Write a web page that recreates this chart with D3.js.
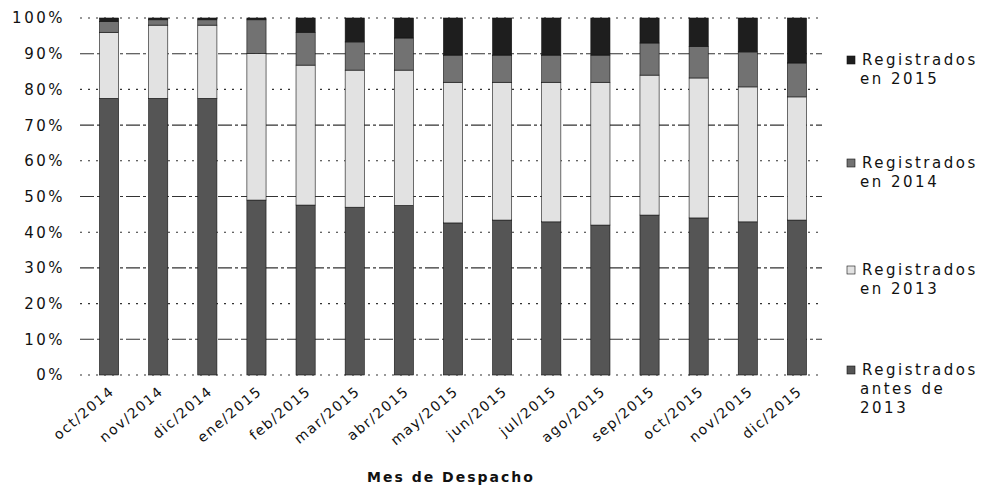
<!DOCTYPE html>
<html><head><meta charset="utf-8">
<script src="https://cdn.jsdelivr.net/npm/d3@7"></script>
<style>
body{margin:0;background:#fff;}
text{font-family:"DejaVu Sans",Verdana,sans-serif;fill:#111;}
</style></head>
<body><svg id="c" width="983" height="493"></svg>
<script>
const categories = ["oct/2014","nov/2014","dic/2014","ene/2015","feb/2015","mar/2015","abr/2015","may/2015","jun/2015","jul/2015","ago/2015","sep/2015","oct/2015","nov/2015","dic/2015"];
const antes2013 = [77.5,77.5,77.5,49,47.6,47,47.5,42.6,43.4,42.9,42,44.8,44,42.9,43.4];
const reg2013   = [18.5,20.5,20.5,41,39.2,38.4,37.9,39.4,38.6,39.1,40,39.2,39.2,37.8,34.5];
const reg2014   = [3,1.5,1.5,9.5,9.2,7.9,9,7.6,7.6,7.6,7.6,9,8.8,9.8,9.5];
const reg2015   = [1,0.5,0.5,0.5,4,6.7,5.6,10.4,10.4,10.4,10.4,7,8,9.5,12.6];
const seriesNames = ["Registrados antes de 2013","Registrados en 2013","Registrados en 2014","Registrados en 2015"];
const yTicks = [0,10,20,30,40,50,60,70,80,90,100];
const colors = ["#555555","#e2e2e2","#727272","#1e1e1e"];

const svg = d3.select("#c");
const x = d3.scaleBand().domain(categories).range([84.5,821.5]).paddingInner(0.61).paddingOuter(0.305);
const y = d3.scaleLinear().domain([0,100]).range([375,18]);

// gridlines
svg.append("g").selectAll("line").data(yTicks).join("line")
  .attr("x1",80).attr("x2",822)
  .attr("y1",d=>y(d)).attr("y2",d=>y(d))
  .attr("stroke","#333").attr("stroke-width",1.1)
  .attr("stroke-dasharray",d=> d%20===10 ? "14,3,3,3" : "2,6");

// y tick labels
svg.append("g").selectAll("text").data(yTicks).join("text")
  .attr("x",65).attr("y",d=>y(d)).attr("dy","0.36em")
  .attr("text-anchor","end").style("font-size","15px").style("letter-spacing","2.5px")
  .text(d=>d+"%");

// stacked data
const rows = categories.map((c,i)=>({cat:c, s0:antes2013[i], s1:reg2013[i], s2:reg2014[i], s3:reg2015[i]}));
const stack = d3.stack().keys(["s0","s1","s2","s3"]).offset(d3.stackOffsetExpand);
const layers = stack(rows);
svg.append("g").selectAll("g").data(layers).join("g")
  .attr("fill",(d,i)=>colors[i])
  .selectAll("rect").data(d=>d).join("rect")
  .attr("x",d=>x(d.data.cat)).attr("width",x.bandwidth())
  .attr("y",d=>y(d[1]*100)).attr("height",d=>y(d[0]*100)-y(d[1]*100))
  .attr("stroke","#111").attr("stroke-width",0.6);

// x labels
svg.append("g").selectAll("text").data(categories).join("text")
  .attr("transform",d=>`translate(${x(d)+x.bandwidth()/2+3},389) rotate(-40)`)
  .attr("text-anchor","end").attr("dy","0.35em")
  .style("font-size","14px").style("letter-spacing","1.5px")
  .text(d=>d);

// axis title
svg.append("text").attr("x",451).attr("y",482).attr("text-anchor","middle")
  .style("font-size","14px").style("font-weight","bold").style("letter-spacing","2px")
  .text("Mes de Despacho");

// legend
const legend = [
  {i:3, lines:["Registrados","en 2015"], y:60},
  {i:2, lines:["Registrados","en 2014"], y:163},
  {i:1, lines:["Registrados","en 2013"], y:270},
  {i:0, lines:["Registrados","antes de","2013"], y:370}
];
const lg = svg.append("g");
legend.forEach(l=>{
  lg.append("rect").attr("x",847).attr("y",l.y-4).attr("width",8).attr("height",8)
    .attr("fill",colors[l.i]).attr("stroke","#111").attr("stroke-width",0.6);
  l.lines.forEach((t,k)=>{
    lg.append("text").attr("x",k===0?862:860).attr("y",l.y+k*19).attr("dy","0.36em")
      .style("font-size","15px").style("letter-spacing","2.5px").text(t);
  });
});
</script></body></html>
